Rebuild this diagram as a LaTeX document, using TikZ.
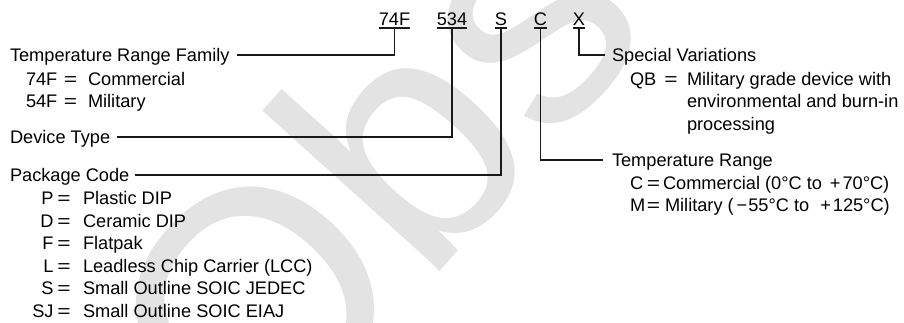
\documentclass[tikz,border=0pt]{standalone}
\usepackage{fontspec}
\usepackage{graphicx}
\setmainfont{Liberation Sans}
\usetikzlibrary{calc}
\newcommand{\wideeq}{\scalebox{1.25}[1]{=}}
\tikzset{
  lbl/.style={inner sep=0pt, outer sep=0pt, text height=13pt, text depth=0pt, font=\fontsize{18.2pt}{21pt}\selectfont},
  conn/.style={line width=1.3pt, draw=black!90},
}
\begin{document}
\begin{tikzpicture}[x=1pt,y=-1pt]
\useasboundingbox (0,0) rectangle (904,322);
% watermark
\begin{scope}
\clip (0,0) rectangle (904,322);
\node[rotate=48, anchor=base west, inner sep=0pt, text=black!11, font=\fontsize{330pt}{330pt}\selectfont] (wm) at (254,478) {Obsolete};
\end{scope}
% top codes
\node[lbl, anchor=south] (c74) at (394.5,25) {74F};
\node[lbl, anchor=south] (c534) at (452,25) {534};
\node[lbl, anchor=south] (cS) at (501,25) {S};
\node[lbl, anchor=south] (cC) at (540.5,25) {C};
\node[lbl, anchor=south] (cX) at (579,25) {X};
\foreach \n in {c74,c534,cS,cC,cX}{
  \draw[conn] ([yshift=-3pt]\n.south west) -- ([yshift=-3pt]\n.south east);
}
% left side
\node[lbl, anchor=west] (trf) at (10,55) {Temperature Range Family};
\node[lbl, anchor=west] (k74) at (26,78.5) {74F};
\node[lbl] (e74) at (70.5,78.5) {\wideeq};
\node[lbl, anchor=west] (d74) at (88,78.5) {Commercial};
\node[lbl, anchor=west] (k54) at (26,101) {54F};
\node[lbl] (e54) at (70.5,101) {\wideeq};
\node[lbl, anchor=west] (d54) at (88,101) {Military};
\node[lbl, anchor=west] (dev) at (10,137) {Device Type};
\node[lbl, anchor=west] (pkg) at (10,175) {Package Code};
\foreach \k/\d/\y/\i in {P/Plastic DIP/198/1, D/Ceramic DIP/220.5/2, F/Flatpak/243/3, L/Leadless Chip Carrier (LCC)/265.5/4, S/Small Outline SOIC JEDEC/288/5, SJ/Small Outline SOIC EIAJ/310.5/6}{
  \node[lbl, anchor=east] (pk\i) at (53.5,\y) {\k};
  \node[lbl] (pe\i) at (64,\y) {\wideeq};
  \node[lbl, anchor=west] (pd\i) at (83,\y) {\d};
}
% right side
\node[lbl, anchor=west] (spv) at (612,55) {Special Variations};
\node[lbl, anchor=west] (kqb) at (630,78.5) {QB};
\node[lbl] (eqb) at (671,78.5) {\wideeq};
\node[lbl, anchor=west] (dq1) at (687,78.5) {Military grade device with};
\node[lbl, anchor=west] (dq2) at (687,101) {environmental and burn-in};
\node[lbl, anchor=west] (dq3) at (687,123.5) {processing};
\node[lbl, anchor=west] (tr) at (612,160) {Temperature Range};
\node[lbl, anchor=west] (kc) at (630,182.5) {C};
\node[lbl] (ec) at (653.5,182.5) {\wideeq};
\node[lbl, anchor=west] (dc) at (663,182.5) {Commercial (0°C to\hspace{8pt}+\hspace{2pt}70°C)};
\node[lbl, anchor=west] (km) at (630,205) {M};
\node[lbl] (em) at (653.5,205) {\wideeq};
\node[lbl, anchor=west] (dm) at (665,205) {Military (\hspace{3pt}−\hspace{1pt}55°C to\hspace{11pt}+\hspace{2pt}125°C)};
% connectors
\draw[conn] ([yshift=-3pt]c74.south) |- ([xshift=7pt]trf.east);
\draw[conn] ([yshift=-3pt]c534.south) |- ([xshift=7pt]dev.east);
\draw[conn] ([yshift=-3pt]cS.south) |- ([xshift=6pt]pkg.east);
\draw[conn] ([yshift=-3pt]cC.south) |- ([xshift=-9pt]tr.west);
\draw[conn] ([yshift=-3pt]cX.south) |- ([xshift=-7pt]spv.west);
\end{tikzpicture}
\end{document}
